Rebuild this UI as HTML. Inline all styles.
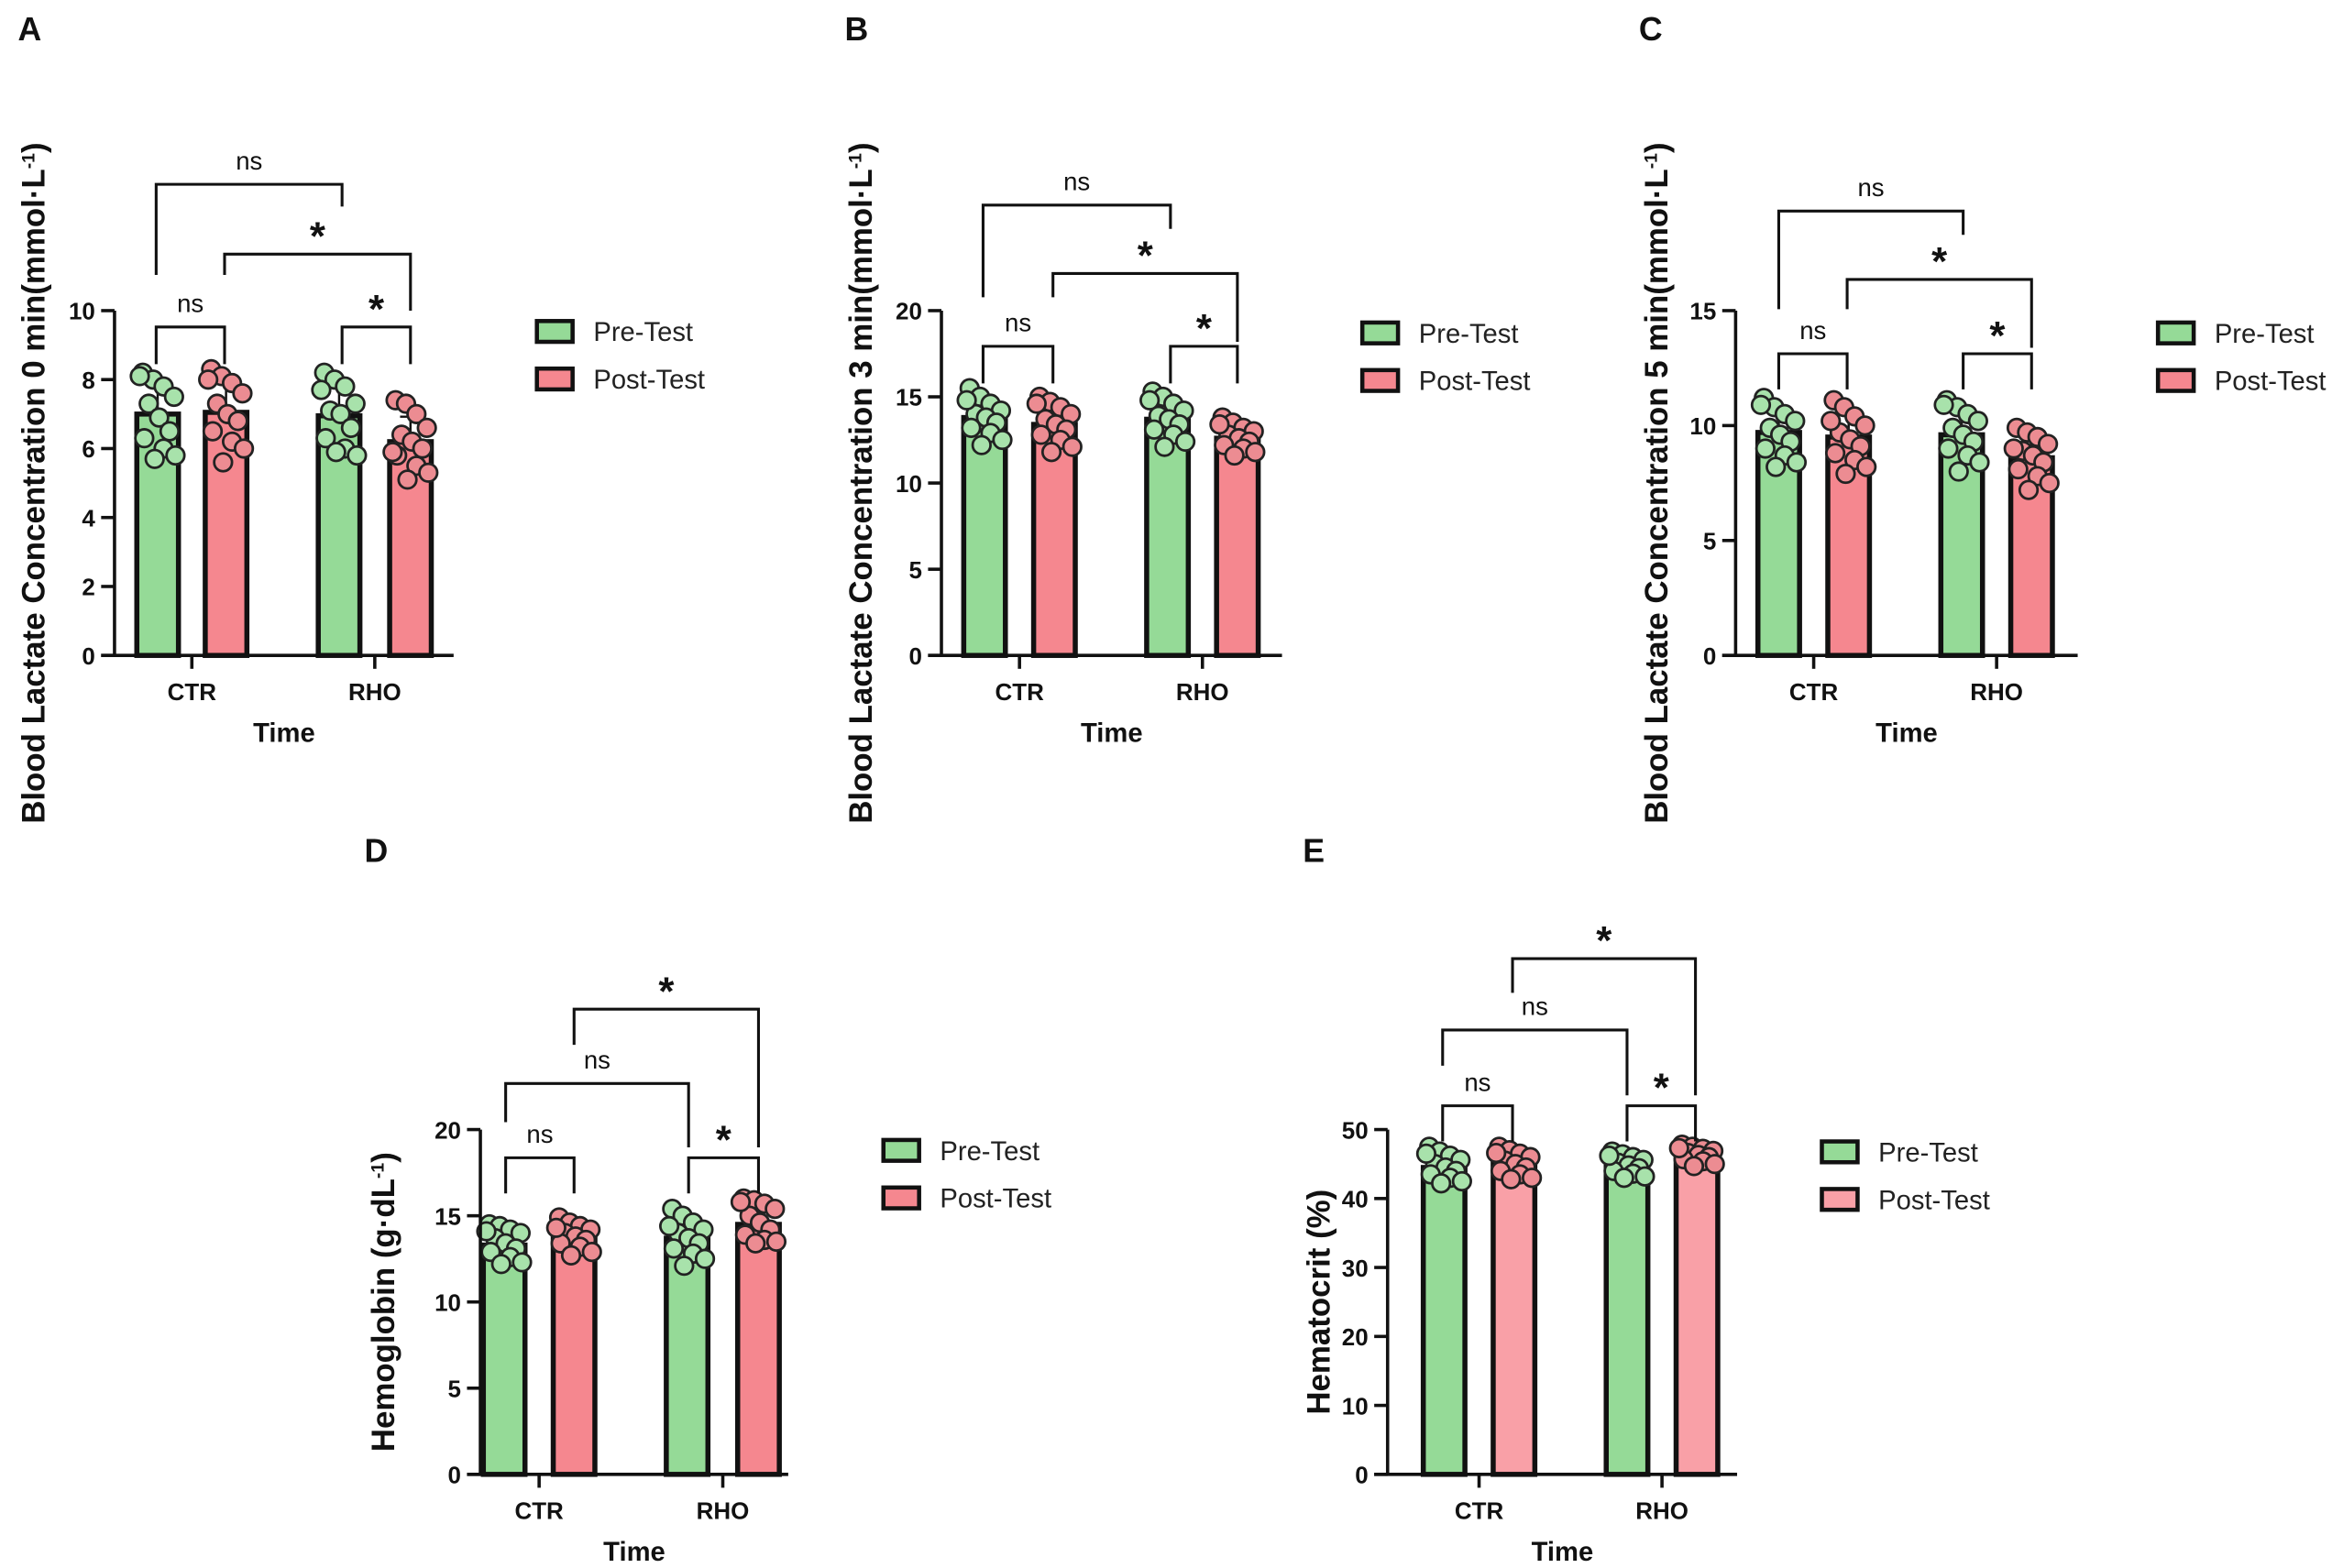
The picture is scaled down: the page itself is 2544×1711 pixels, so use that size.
<!DOCTYPE html>
<html><head><meta charset="utf-8"><style>
html,body{margin:0;padding:0;background:#fff;}
svg{display:block;font-family:"Liberation Sans",Arial,sans-serif;}
</style></head><body>
<svg id="fig" width="2544" height="1711" viewBox="0 0 1568 1055" preserveAspectRatio="none" xmlns="http://www.w3.org/2000/svg"></svg>
<script>
// ---- data ----
const groups = ["CTR","RHO"];
const seriesNames = ["Pre-Test","Post-Test"];
const aMeans = [[7.0,7.05],[6.95,6.2]];
const aPoints = [[[8.2,8.0,7.8,7.5,7.3,6.9,6.5,6.3,6.0,5.8,5.7,8.1],[8.3,8.1,7.9,7.6,7.3,7.0,6.8,6.5,6.2,6.0,5.6,8.0]],
                 [[8.2,8.0,7.8,7.3,7.1,7.0,6.6,6.3,6.0,5.8,5.9,7.7],[7.4,7.3,7.0,6.6,6.4,6.2,6.0,5.8,5.5,5.3,5.1,5.9]]];
const aTicks = [0,2,4,6,8,10];
const bMeans = [[13.8,13.4],[13.7,12.6]];
const bPoints = [[[15.5,15.0,14.6,14.2,14.0,13.8,13.5,13.2,12.9,12.5,12.2,14.8],[15.0,14.7,14.4,14.0,13.7,13.4,13.1,12.8,12.5,12.1,11.8,14.6]],
                 [[15.3,15.0,14.6,14.2,13.9,13.7,13.4,13.1,12.8,12.4,12.1,14.8],[13.8,13.5,13.2,13.0,12.8,12.6,12.4,12.2,12.0,11.8,11.6,13.4]]];
const bTicks = [0,5,10,15,20];
const cMeans = [[9.7,9.5],[9.6,8.6]];
const cPoints = [[[11.2,10.8,10.5,10.2,9.9,9.6,9.3,9.0,8.7,8.4,8.2,10.9],[11.1,10.8,10.4,10.0,9.7,9.4,9.1,8.8,8.5,8.2,7.9,10.2]],
                 [[11.1,10.8,10.5,10.2,9.9,9.6,9.3,9.0,8.7,8.4,8.0,10.9],[9.9,9.7,9.5,9.2,8.9,8.7,8.4,8.1,7.8,7.5,7.2,9.0]]];
const cTicks = [0,5,10,15];
const dMeans = [[13.3,13.9],[13.7,14.5]];
const dPoints = [[[14.5,14.4,14.2,14.0,13.7,13.4,13.1,12.9,12.6,12.3,12.2,14.1],[14.9,14.6,14.4,14.2,14.0,13.8,13.6,13.4,13.2,12.9,12.7,14.3]],
                 [[15.4,15.0,14.6,14.2,14.0,13.7,13.4,13.1,12.8,12.5,12.1,14.4],[16.0,15.9,15.7,15.4,15.0,14.6,14.2,13.9,13.6,13.5,13.4,15.8]]];
const dTicks = [0,5,10,15,20];
const eMeans = [[44.5,45.0],[45.0,46.0]];
const ePoints = [[[47.5,46.8,46.2,45.6,45.0,44.5,44.0,43.5,43.0,42.5,42.2,46.5],[47.5,47.0,46.5,46.0,45.5,45.0,44.5,44.0,43.5,43.0,42.8,46.6]],
                 [[46.8,46.4,46.0,45.6,45.2,44.8,44.4,44.0,43.6,43.2,43.0,46.2],[47.8,47.5,47.2,46.9,46.6,46.3,46.0,45.7,45.4,45.0,44.7,47.3]]];
const eTicks = [0,10,20,30,40,50];

// ---- drawing ----
const NS="http://www.w3.org/2000/svg";
const svg=document.getElementById('fig');
function el(tag,attrs,parent,txt){const e=document.createElementNS(NS,tag);for(const k in attrs)e.setAttribute(k,attrs[k]);if(txt!==undefined)e.textContent=txt;(parent||svg).appendChild(e);return e;}
const jit=[-10,-3,4,11,-6,1,8,-9,4,12,-2,-12];

function panel(cfg){
  const g=el('g',{});
  
  
  const ax=cfg.ax, y0=cfg.y0, yTop=cfg.yTop, vmax=cfg.ticks[cfg.ticks.length-1];
  const Y=v=>y0-(v/vmax)*(y0-yTop);
  const pink=cfg.pink, pinkDot=cfg.pinkDot;
  const fills=["#95da97",pink], dotFills=["#a8e2ab",pinkDot];
  const L=el('text',{x:cfg.lx,y:cfg.ly,'font-size':22,'font-weight':'bold',fill:'#111'},g,cfg.letter);
  
  
  for(let gi=0;gi<2;gi++)for(let s=0;s<2;s++){
    const x0=cfg.barX[gi*2+s], w=cfg.bw;
    const r=el('rect',{x:x0,y:Y(cfg.means[gi][s]),width:w,height:y0-Y(cfg.means[gi][s]),fill:fills[s],stroke:'#111','stroke-width':3.4},g);
    
    
    const pts=cfg.points[gi][s];
    const sd=Math.sqrt(pts.reduce((a,v)=>a+(v-cfg.means[gi][s])**2,0)/pts.length);
    const cx=x0+w/2;
    const eb=el('path',{d:`M${cx},${Y(cfg.means[gi][s])}V${Y(cfg.means[gi][s]+sd)}M${cx-7},${Y(cfg.means[gi][s]+sd)}H${cx+7}`,stroke:'#111','stroke-width':1.5,fill:'none'},g);
    
    
    pts.forEach((v,i)=>{
      const c=el('circle',{cx:cx+jit[i],cy:Y(v),r:6,fill:dotFills[s],stroke:'#222','stroke-width':1.7},g);
      
      
    });
  }
  const ya=el('path',{d:`M${ax},${yTop}V${y0}`,stroke:'#111','stroke-width':2.2,fill:'none'},g);
  
  
  const xa=el('path',{d:`M${ax-9},${y0}H${cfg.xEnd}`,stroke:'#111','stroke-width':2.2,fill:'none'},g);
  
  
  cfg.ticks.forEach(t=>{
    el('path',{d:`M${ax-9},${Y(t)}H${ax}`,stroke:'#111','stroke-width':2.2},g);
    const tl=el('text',{x:ax-13,y:Y(t)+6,'font-size':16,'font-weight':'bold','text-anchor':'end',fill:'#111'},g,String(t));
    
    
  });
  groups.forEach((gname,gi)=>{
    const cx=(cfg.barX[gi*2]+cfg.barX[gi*2+1]+cfg.bw)/2;
    el('path',{d:`M${cx},${y0}V${y0+9}`,stroke:'#111','stroke-width':2.2},g);
    const tl=el('text',{x:cx,y:y0+30,'font-size':16,'font-weight':'bold','text-anchor':'middle',fill:'#111'},g,gname);
    
    
  });
  const midX=(ax+cfg.xEnd)/2;
  const xt=el('text',{x:midX,y:y0+58,'font-size':18,'font-weight':'bold','text-anchor':'middle',fill:'#111'},g,'Time');
  
  
  const yt=el('text',{x:0,y:0,'font-size':21.5,'font-weight':'bold','text-anchor':'middle',fill:'#111',transform:`translate(${cfg.ytx},${cfg.yty}) rotate(-90)`},g);
  yt.innerHTML=cfg.ytitle;
  
  
  cfg.brackets.forEach(b=>{
    const p=el('path',{d:`M${b[0]},${b[3]}V${b[2]}H${b[1]}V${b[4]}`,stroke:'#111','stroke-width':1.9,fill:'none'},g);
    
    
    const star=b[5]==='*';
    const t=el('text',{x:(b[0]+b[1])/2,y:star?b[2]-3:b[2]-10,'font-size':star?27:17,'font-weight':star?'bold':'normal','text-anchor':'middle',fill:'#111'},g,b[5]);
    
    
  });
  const lg=el('g',{},g);
  
  
  seriesNames.forEach((n,s)=>{
    const y=cfg.legY+s*32;
    const e=el('g',{},lg);
    
    
    el('rect',{x:cfg.legX,y:y-7,width:24,height:14,fill:fills[s],stroke:'#111','stroke-width':2.8},e);
    el('text',{x:cfg.legX+38,y:y+6.5,'font-size':18,fill:'#222'},e,n);
  });
}
const br=(x1,x2,yb,yl,yr,t)=>[x1,x2,yb,yl,yr,t];
panel({letter:'A',lx:12,ly:27,ax:77,y0:441,yTop:209,xEnd:305,bw:28,barX:[92,138,214,262],ticks:aTicks,means:aMeans,points:aPoints,
  pink:'#f5878f',pinkDot:'#ec8c92',legX:361,legY:223,ytx:30,yty:325,
  ytitle:'Blood Lactate Concentration 0 min(mmol·L<tspan dy="-7" font-size="12">-1</tspan><tspan dy="7">)</tspan>',
  brackets:[br(105,230,124,185,139,'ns'),br(151,276,171,185,209,'*'),br(105,151,220,245,245,'ns'),br(230,276,220,245,245,'*')]});
panel({letter:'B',lx:568,ly:27,ax:633,y0:441,yTop:209,xEnd:862,bw:28,barX:[648,695,771,818],ticks:bTicks,means:bMeans,points:bPoints,
  pink:'#f5878f',pinkDot:'#ec8c92',legX:916,legY:224,ytx:586,yty:325,
  ytitle:'Blood Lactate Concentration 3 min(mmol·L<tspan dy="-7" font-size="12">-1</tspan><tspan dy="7">)</tspan>',
  brackets:[br(661,787,138,200,154,'ns'),br(708,832,184,200,230,'*'),br(661,708,233,258,258,'ns'),br(787,832,233,258,258,'*')]});
panel({letter:'C',lx:1102,ly:27,ax:1167,y0:441,yTop:209,xEnd:1397,bw:28,barX:[1182,1229,1305,1352],ticks:cTicks,means:cMeans,points:cPoints,
  pink:'#f5878f',pinkDot:'#ec8c92',legX:1451,legY:224,ytx:1121,yty:325,
  ytitle:'Blood Lactate Concentration 5 min(mmol·L<tspan dy="-7" font-size="12">-1</tspan><tspan dy="7">)</tspan>',
  brackets:[br(1196,1320,142,208,158,'ns'),br(1242,1366,188,208,234,'*'),br(1196,1242,238,262,262,'ns'),br(1320,1366,238,262,262,'*')]});
panel({letter:'D',lx:245,ly:580,ax:323,y0:992,yTop:760,xEnd:530,bw:28,barX:[325,372,448,496],ticks:dTicks,means:dMeans,points:dPoints,
  pink:'#f5878f',pinkDot:'#ec8c92',legX:594,legY:774,ytx:265,yty:876,
  ytitle:'Hemoglobin (g·dL<tspan dy="-7" font-size="12">-1</tspan><tspan dy="7">)</tspan>',
  brackets:[br(386,510,679,703,772,'*'),br(340,463,729,755,772,'ns'),br(340,386,779,803,803,'ns'),br(463,510,779,803,803,'*')]});
panel({letter:'E',lx:876,ly:580,ax:933,y0:992,yTop:760,xEnd:1168,bw:28,barX:[957,1004,1080,1127],ticks:eTicks,means:eMeans,points:ePoints,
  pink:'#f9a0a7',pinkDot:'#ec8c92',legX:1225,legY:775,ytx:894,yty:876,
  ytitle:'Hematocrit (%)',
  brackets:[br(1017,1140,645,668,737,'*'),br(970,1094,693,717,737,'ns'),br(970,1017,744,768,768,'ns'),br(1094,1140,744,768,768,'*')]});
</script>
</body></html>
